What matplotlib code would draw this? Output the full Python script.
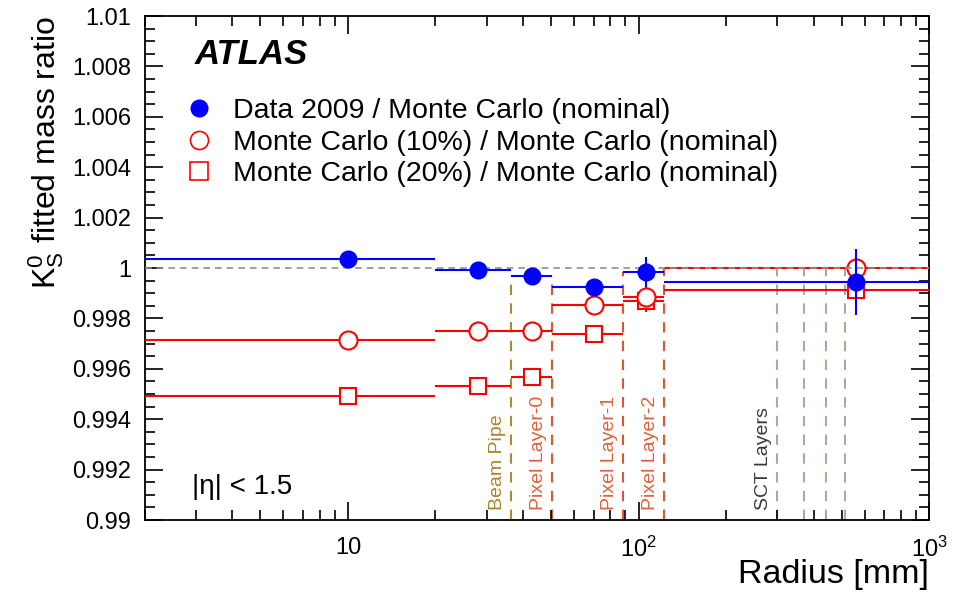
import matplotlib
matplotlib.use('Agg')
import matplotlib.pyplot as plt
from matplotlib.lines import Line2D
from matplotlib.ticker import FixedLocator, FuncFormatter, MultipleLocator, LogLocator
import matplotlib.transforms as mtransforms

plt.rcParams['font.family'] = ['Liberation Sans', 'DejaVu Sans']
plt.rcParams['mathtext.fontset'] = 'custom'
plt.rcParams['mathtext.rm'] = 'Liberation Sans'
plt.rcParams['mathtext.it'] = 'Liberation Sans:italic'

# radius bins [mm] and bin centres
bin_lo = [2, 20, 36.3, 50.5, 88.5, 122.5]
bin_hi = [20, 36.3, 50.5, 88.5, 122.5, 1000]
radius = [10, 28, 43, 70, 106, 560]

data_ratio = [1.00035, 0.99992, 0.99968, 0.99925, 0.99984, 0.99945]
data_err = [0.0, 0.0, 0.0, 0.0, 0.0006, 0.0013]
mc10_ratio = [0.99714, 0.99751, 0.99750, 0.99853, 0.99885, 1.00000]
mc10_err = [0.0, 0.0, 0.0, 0.0, 0.00045, 0.0]
mc20_ratio = [0.99493, 0.99533, 0.99569, 0.99738, 0.99870, 0.99913]
mc20_err = [0.0, 0.0, 0.0, 0.0, 0.00045, 0.0]

# detector boundaries
det_radius = [36.3, 50.5, 88.5, 122.5, 299, 371, 443, 514]
det_top = [0.99968, 0.99968, 0.99984, 0.99996, 1.0, 1.0, 1.0, 1.0]
det_color = ['#b08a2e', '#e0552e', '#e0552e', '#e0552e',
             '#b0a898', '#b0a898', '#b0a898', '#b0a898']
det_labels = ['Beam Pipe', 'Pixel Layer-0', 'Pixel Layer-1', 'Pixel Layer-2', 'SCT Layers']
det_label_r = [36.3, 50.5, 88.5, 122.5, 299]
det_label_color = ['#a8842a', '#e0603a', '#e0603a', '#e0603a', '#3a3a3a']

fig = plt.figure(figsize=(9.59, 5.95), dpi=100)
ax = fig.add_axes([0.151, 0.126, 0.818, 0.847])
ax.set_xscale('log')
ax.set_xlim(2, 1000)
ax.set_ylim(0.99, 1.01)

ax.axhline(1.0, color='#909090', linestyle=(0, (4, 3)), linewidth=1.2, zorder=4)

for r, top, c in zip(det_radius, det_top, det_color):
    ax.vlines(r, 0.99, top, colors=c, linestyles=(0, (5, 4)), linewidth=1.5, zorder=1)

off = mtransforms.offset_copy(ax.transData, fig=fig, x=-5, y=0, units='dots')
for r, lab, c in zip(det_label_r, det_labels, det_label_color):
    ax.text(r, 0.9904, lab, rotation=90, ha='right', va='bottom', color=c,
            fontsize=14, transform=off)

xerr_lo = [r - lo for r, lo in zip(radius, bin_lo)]
xerr_hi = [hi - r for r, hi in zip(radius, bin_hi)]

ax.errorbar(radius, mc20_ratio, xerr=[xerr_lo, xerr_hi], yerr=mc20_err, fmt='s',
            color='red', mfc='white', mec='red', ms=12, mew=1.5, elinewidth=1.5, zorder=3)
ax.errorbar(radius, mc10_ratio, xerr=[xerr_lo, xerr_hi], yerr=mc10_err, fmt='o',
            color='red', mfc='white', mec='red', ms=13, mew=1.5, elinewidth=1.5, zorder=3)
ax.errorbar(radius, data_ratio, xerr=[xerr_lo, xerr_hi], yerr=data_err, fmt='o',
            color='blue', ms=12, elinewidth=1.5, zorder=5)

ax.xaxis.set_major_locator(FixedLocator([10, 100, 1000]))
ax.xaxis.set_major_formatter(FuncFormatter(
    lambda v, p: {10: '10', 100: '$10^2$', 1000: '$10^3$'}.get(int(round(v)), '')))
ax.xaxis.set_minor_locator(LogLocator(base=10, subs=range(2, 10), numticks=20))
ax.xaxis.set_minor_formatter(FuncFormatter(lambda v, p: ''))
ax.yaxis.set_major_locator(MultipleLocator(0.002))
ax.yaxis.set_minor_locator(MultipleLocator(0.0005))
ax.yaxis.set_major_formatter(FuncFormatter(lambda v, p: '%g' % round(v, 4)))

ax.tick_params(which='both', direction='in', top=True, right=True, width=1.2)
ax.tick_params(which='major', length=13, labelsize=17, pad=10)
ax.tick_params(which='minor', length=7)
ax.tick_params(axis='x', which='major', pad=12)
for s in ax.spines.values():
    s.set_linewidth(1.3)

ax.set_xlabel('Radius [mm]', fontsize=24.5, loc='right', labelpad=-2)
ax.set_ylabel(r'$\mathrm{K^0_S}$ fitted mass ratio', fontsize=23, loc='top', labelpad=4)

ax.text(0.063, 0.923, 'ATLAS', transform=ax.transAxes, fontsize=25,
        fontweight='bold', fontstyle='italic', va='center')
ax.text(0.06, 0.065, '|η| < 1.5', transform=ax.transAxes, fontsize=20, va='center')

handles = [
    Line2D([], [], ls='none', marker='o', color='blue', ms=12),
    Line2D([], [], ls='none', marker='o', mfc='white', mec='red', ms=13, mew=1.2),
    Line2D([], [], ls='none', marker='s', mfc='white', mec='red', ms=13, mew=1.2),
]
labels = ['Data 2009 / Monte Carlo (nominal)',
          'Monte Carlo (10%) / Monte Carlo (nominal)',
          'Monte Carlo (20%) / Monte Carlo (nominal)']
ax.legend(handles, labels, loc='upper left', bbox_to_anchor=(0.036, 0.866), frameon=False,
          fontsize=20.5, handlelength=0.8, handletextpad=0.8, labelspacing=0.2, borderpad=0)

fig.savefig('out.png', dpi=100)
